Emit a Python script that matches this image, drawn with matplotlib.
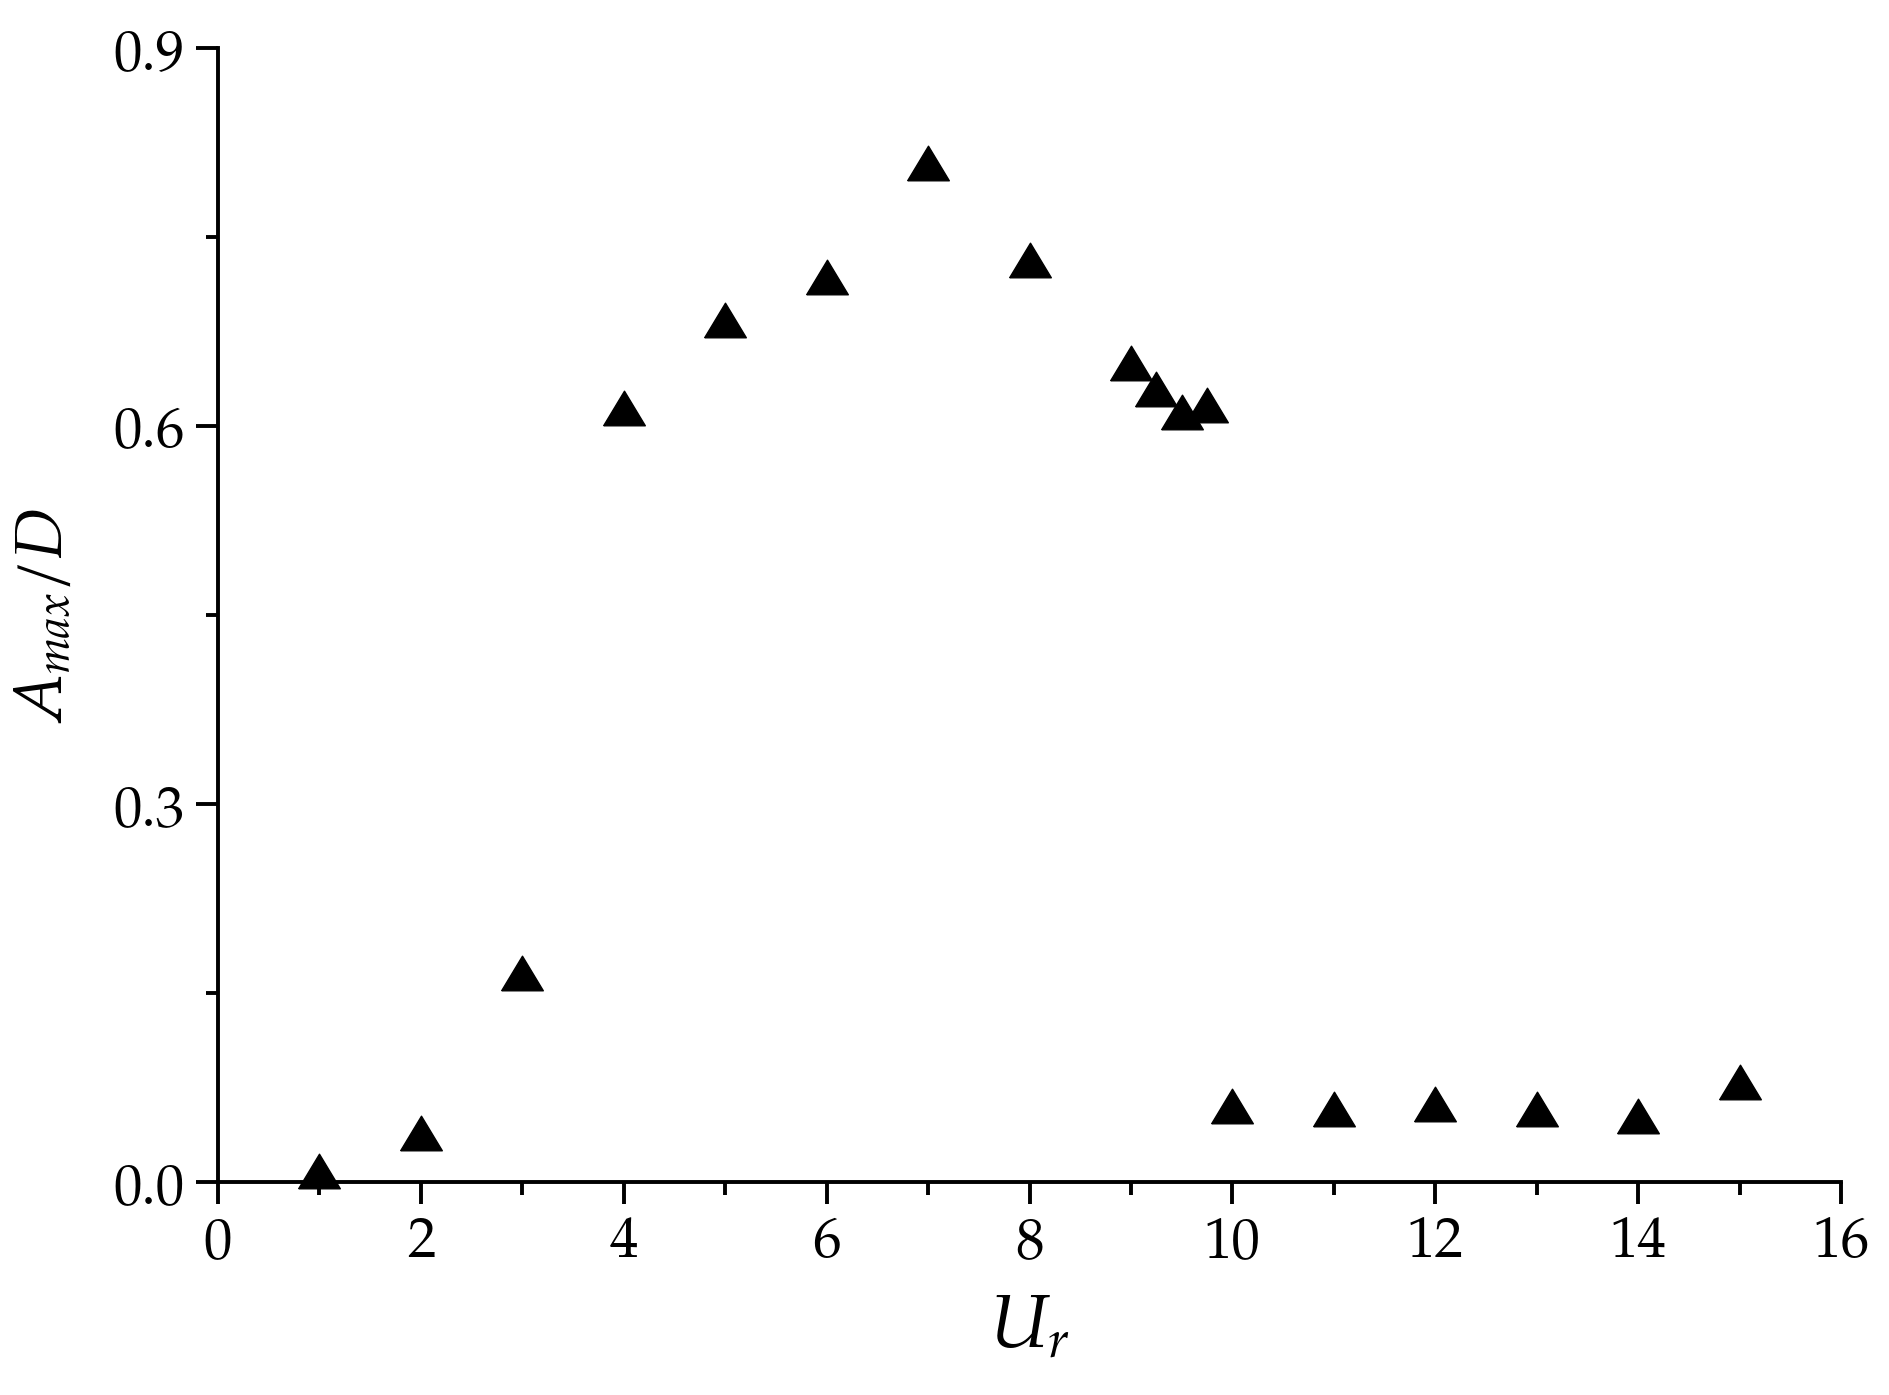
import matplotlib
matplotlib.use('Agg')
import matplotlib.pyplot as plt
import numpy as np
from matplotlib.ticker import MultipleLocator

# reduced velocity vs max amplitude ratio
ur = [1, 2, 3, 4, 5, 6, 7, 8, 9, 9.25, 9.5, 9.75, 10, 11, 12, 13, 14, 15]
amax_d = [0.009, 0.039, 0.166, 0.614, 0.684, 0.718, 0.809, 0.732, 0.650,
          0.629, 0.611, 0.617, 0.060, 0.058, 0.062, 0.058, 0.052, 0.079]

x_ticks = [0, 2, 4, 6, 8, 10, 12, 14, 16]
y_ticks = [0.0, 0.3, 0.6, 0.9]
y_tick_labels = ['0.0', '0.3', '0.6', '0.9']

# Palatino-like look
plt.rcParams['font.family'] = ['TeX Gyre Pagella', 'DejaVu Serif']
plt.rcParams['mathtext.fontset'] = 'custom'
plt.rcParams['mathtext.rm'] = 'TeX Gyre Pagella'
plt.rcParams['mathtext.it'] = 'TeX Gyre Pagella:italic'

fig = plt.figure(figsize=(18.89, 13.95), dpi=100)
ax = fig.add_axes([0.1154, 0.1527, 0.9746 - 0.1154, 0.9656 - 0.1527])

# wide, flat triangle like the Origin marker
tri = [(-1, -0.83), (1, -0.83), (0, 0.83), (-1, -0.83)]
ax.plot(ur, amax_d, linestyle='none', marker=tri, markersize=30,
        color='black', clip_on=False)

ax.set_xlim(0, 16)
ax.set_ylim(0, 0.9)
ax.set_xticks(x_ticks)
ax.set_yticks(y_ticks)
ax.set_yticklabels(y_tick_labels)
ax.xaxis.set_minor_locator(MultipleLocator(1))
ax.yaxis.set_minor_locator(MultipleLocator(0.15))

for side in ['top', 'right']:
    ax.spines[side].set_visible(False)
for side in ['left', 'bottom']:
    ax.spines[side].set_linewidth(2.8)

ax.tick_params(which='major', direction='out', length=16, width=2.8,
               labelsize=41, pad=8)
ax.tick_params(which='minor', direction='out', length=9, width=2.8)

ax.set_xlabel(r'$U_r$', fontsize=54, labelpad=14)
ax.set_ylabel(r'$A_{max}/D$', fontsize=48, labelpad=24)

fig.savefig('out.png', dpi=100)
